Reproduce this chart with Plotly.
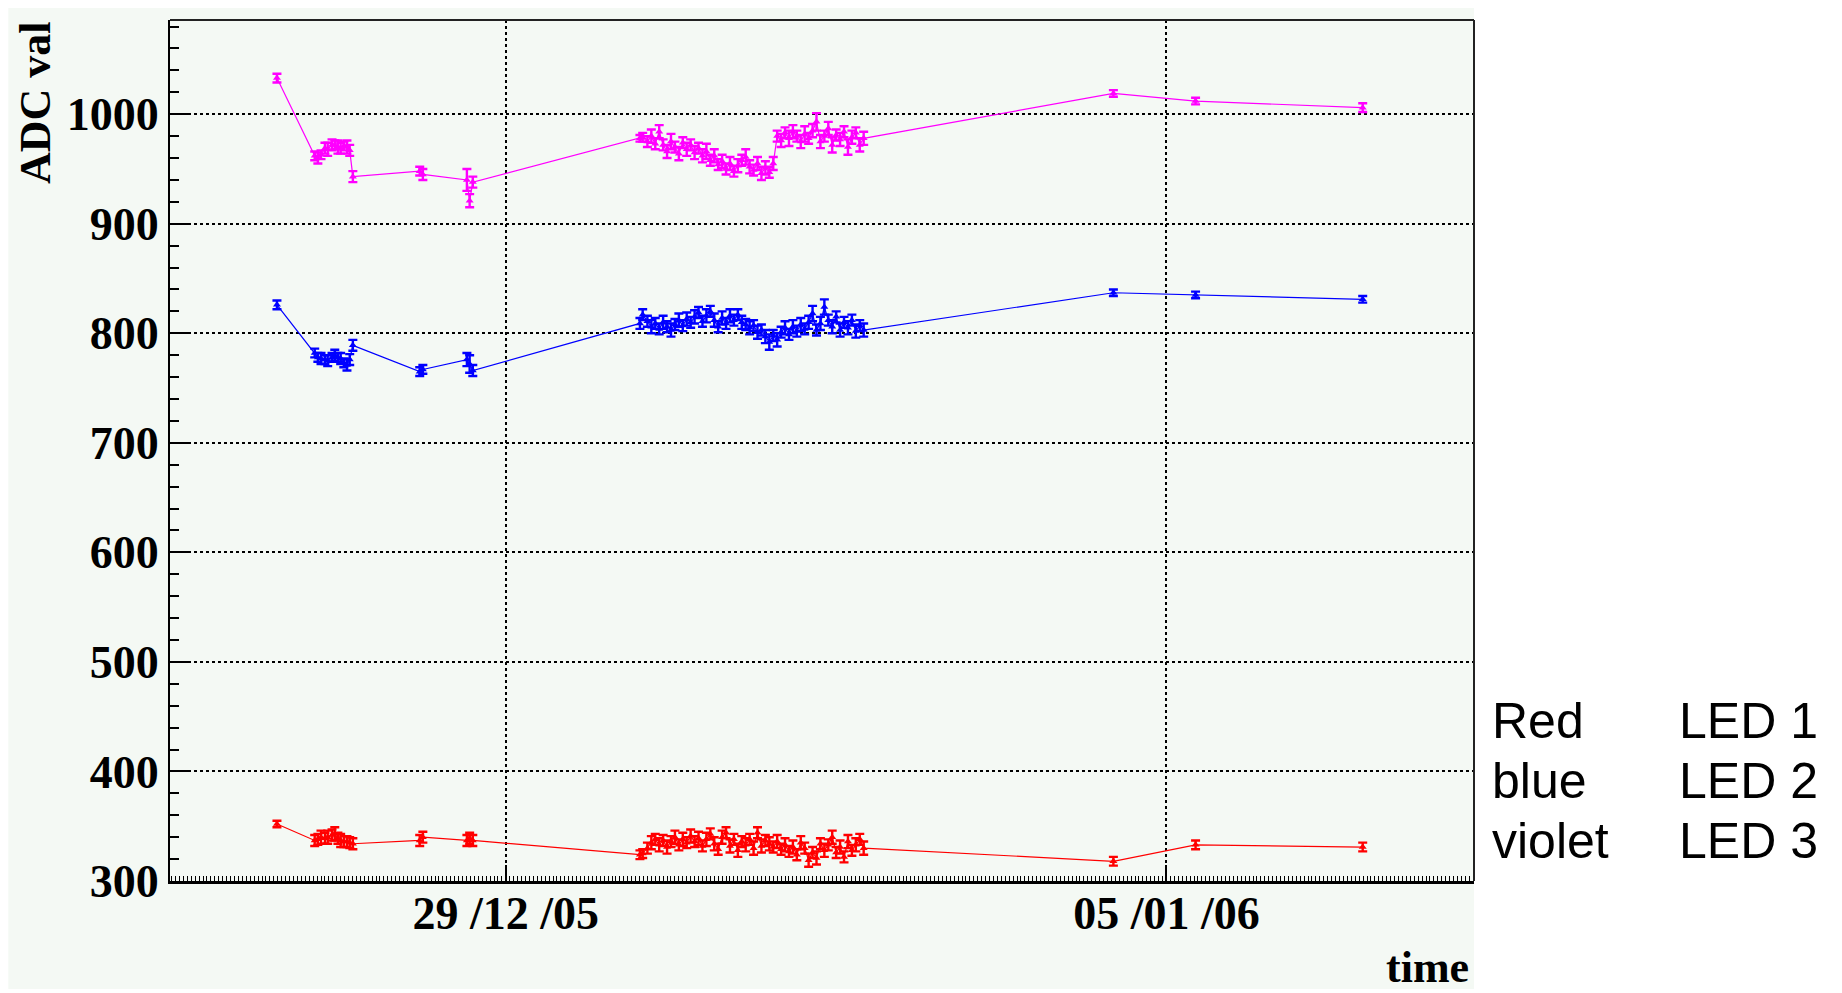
import pandas as pd
import plotly.graph_objects as go

# measurement times: hours relative to 29/12/2005 00:00
hours = [-58.2,
         -48.6, -47.8, -47.0, -46.0, -45.3, -44.2, -43.5, -42.7, -42.0, -41.2, -40.4, -39.7, -38.9,
         -21.9, -21.1,
         -9.9, -9.2, -8.4,
         34.1, 34.8,
         36, 37, 38, 39, 40, 41, 42, 43, 44, 45,
         46, 47, 48, 49, 50, 51, 52, 53, 54, 55,
         56, 57, 58, 59, 60, 61, 62, 63, 64, 65,
         66, 67, 68, 69, 70, 71, 72, 73, 74, 75,
         76, 77, 78, 79, 80, 81, 82, 83, 84, 85,
         86, 87, 88, 89, 90, 91,
         154.5, 175.4, 217.9]

violet_vals = [1033,
               962, 960, 963, 969, 968, 972, 972, 970, 969, 971, 970, 967, 943,
               948, 945,
               940, 921, 938,
               978, 979,
               975, 980, 973, 984, 972, 966, 975, 970, 964, 974,
               968, 972, 965, 969, 962, 966, 958, 962, 954, 957,
               950, 955, 948, 953, 958, 961, 952, 949, 955, 946,
               951, 947, 955, 980, 976, 983, 978, 984, 980, 975,
               982, 978, 985, 993, 975, 980, 987, 972, 981, 977,
               984, 970, 979, 983, 972, 978,
               1019, 1012, 1006]
violet_err = [4,
              4, 5, 4, 5, 6, 5, 4, 6, 5, 4, 6, 5, 5,
              4, 5,
              10, 6, 5,
              3, 4,
              5, 6, 5, 6, 5, 6, 7, 5, 6, 5,
              6, 5, 6, 5, 6, 7, 5, 6, 5, 6,
              5, 6, 5, 6, 5, 7, 6, 5, 6, 6,
              6, 5, 6, 5, 6, 5, 7, 6, 5, 6,
              7, 5, 6, 8, 6, 5, 6, 7, 5, 6,
              5, 7, 6, 5, 6, 6,
              3, 3, 4]

blue_vals = [826,
             782, 778, 777, 776, 775, 778, 780, 778, 777, 773, 771, 776, 789,
             765, 767,
             776, 772, 766,
             809, 817,
             811, 806, 809, 804, 810, 806, 803, 808, 812, 807,
             813, 810, 815, 819, 811, 816, 820, 812, 806, 814,
             809, 816, 812, 817, 810, 808, 805, 807, 801, 803,
             797, 792, 798, 794, 801, 805, 799, 806, 802, 808,
             804, 810, 818, 803, 809, 824, 812, 806, 815, 803,
             810, 805, 812, 802, 807, 803,
             837, 835, 831]
blue_err = [4,
            4, 4, 5, 4, 5, 4, 5, 4, 5, 4, 5, 5, 5,
            4, 4,
            6, 8, 5,
            5, 5,
            5, 6, 5, 5, 6, 5, 6, 5, 6, 5,
            6, 5, 6, 5, 5, 6, 5, 6, 5, 6,
            5, 6, 5, 5, 6, 5, 6, 5, 6, 5,
            6, 7, 5, 6, 5, 6, 5, 6, 5, 6,
            5, 6, 7, 5, 6, 7, 5, 6, 5, 6,
            5, 6, 5, 6, 5, 6,
            3, 3, 3]

red_vals = [352,
            337, 338, 340, 339, 340, 342, 343, 339, 337, 336, 336, 335, 334,
            337, 340,
            337, 339, 337,
            324, 325,
            330, 335, 338, 333, 337, 331, 336, 340, 333, 338,
            335, 341, 336, 339, 332, 338, 343, 334, 329, 340,
            344, 332, 338, 328, 336, 333, 338, 330, 344, 332,
            337, 334, 331, 336, 329, 333, 327, 331, 324, 335,
            330, 319, 326, 321, 334, 328, 333, 340, 326, 331,
            322, 336, 328, 333, 338, 330,
            318, 333, 331]
red_err = [3,
           5, 5, 6, 5, 6, 5, 6, 5, 6, 5, 5, 5, 5,
           5, 5,
           5, 5, 5,
           4, 4,
           5, 6, 5, 6, 5, 6, 5, 6, 5, 6,
           5, 6, 5, 6, 5, 6, 5, 6, 5, 6,
           5, 6, 5, 6, 5, 6, 5, 6, 5, 6,
           5, 6, 5, 6, 5, 6, 5, 6, 5, 6,
           5, 6, 5, 6, 5, 6, 5, 6, 5, 6,
           5, 6, 5, 6, 5, 6,
           4, 4, 4]

base = pd.Timestamp("2005-12-29 00:00")
times = base + pd.to_timedelta(hours, unit="h")

x_range = [base + pd.Timedelta(hours=-85.4), base + pd.Timedelta(hours=246.2)]
y_range = [300, 1086]
x_tickvals = [pd.Timestamp("2005-12-29"), pd.Timestamp("2006-01-05")]
y_tickvals = [300, 400, 500, 600, 700, 800, 900, 1000]

series = [
    ("violet", violet_vals, violet_err, "#ff00ff"),
    ("blue", blue_vals, blue_err, "#0000ff"),
    ("red", red_vals, red_err, "#ff0000"),
]

fig = go.Figure()
for name, vals, err, col in series:
    fig.add_trace(go.Scatter(
        x=times, y=vals, mode="lines+markers", name=name,
        line=dict(color=col, width=1.2),
        marker=dict(symbol="triangle-up", size=7, color=col),
        error_y=dict(type="data", array=err, visible=True, color=col, thickness=2.4, width=4.5),
    ))

serif = dict(family="Liberation Serif", size=44, color="black", weight="bold")
tickserif = dict(family="Liberation Serif", size=46, color="black", weight="bold")

fig.update_layout(
    width=1834, height=985,
    margin=dict(l=162, r=368, t=12, b=112),
    paper_bgcolor="white",
    plot_bgcolor="#f4f9f4",
    showlegend=False,
    font=serif,
)

fig.update_xaxes(
    type="date", range=x_range,
    tickvals=x_tickvals, tickformat="%d /%m /%y",
    ticks="inside", ticklen=16, tickwidth=2, tickcolor="black",
    showline=True, linewidth=3, linecolor="black", mirror=False,
    showgrid=True, gridcolor="black", griddash="dot", gridwidth=1.5,
    minor=dict(ticks="inside", ticklen=5, dtick=3600000, tickcolor="black", tickwidth=1, showgrid=False),
    zeroline=False, tickfont=tickserif, ticklabelstandoff=-10,
)
fig.update_yaxes(
    range=y_range, tickvals=y_tickvals,
    ticks="inside", ticklen=18, tickwidth=2, tickcolor="black",
    showline=True, linewidth=2, linecolor="black", mirror=False,
    showgrid=True, gridcolor="black", griddash="dot", gridwidth=1.5,
    minor=dict(ticks="inside", ticklen=9, dtick=20, tickcolor="black", tickwidth=1.5, showgrid=False),
    zeroline=False, tickfont=tickserif,
)

# canvas background and frame
fig.add_shape(type="rect", xref="paper", yref="paper", x0=-0.124, x1=1.0, y0=-0.1254, y1=1.0232,
              fillcolor="#f4f9f4", line=dict(width=0), layer="below")
fig.add_shape(type="line", xref="paper", yref="paper", x0=0, x1=1, y0=1, y1=1,
              line=dict(color="#222", width=2))
fig.add_shape(type="line", xref="paper", yref="paper", x0=1, x1=1, y0=0, y1=1,
              line=dict(color="#222", width=2))

# axis titles
fig.add_annotation(text="ADC val", xref="paper", yref="paper", x=-0.1035, y=0.9036,
                   textangle=-90, showarrow=False, xanchor="center", yanchor="middle", font=serif)
fig.add_annotation(text="time", xref="paper", yref="paper", x=0.998, y=-0.1,
                   showarrow=False, xanchor="right", yanchor="middle", font=serif)

# LED key
sans = dict(family="Liberation Sans", size=50, color="black", weight="normal")
key_left = ["Red", "blue", "violet"]
key_right = ["LED 1", "LED 2", "LED 3"]
key_y = [0.1858, 0.1161, 0.0465]
for a, b, yy in zip(key_left, key_right, key_y):
    fig.add_annotation(text=a, xref="paper", yref="paper", x=1.0123, y=yy,
                       showarrow=False, xanchor="left", yanchor="middle", font=sans)
    fig.add_annotation(text=b, xref="paper", yref="paper", x=1.1557, y=yy,
                       showarrow=False, xanchor="left", yanchor="middle", font=sans)

fig.write_html("out.html")
